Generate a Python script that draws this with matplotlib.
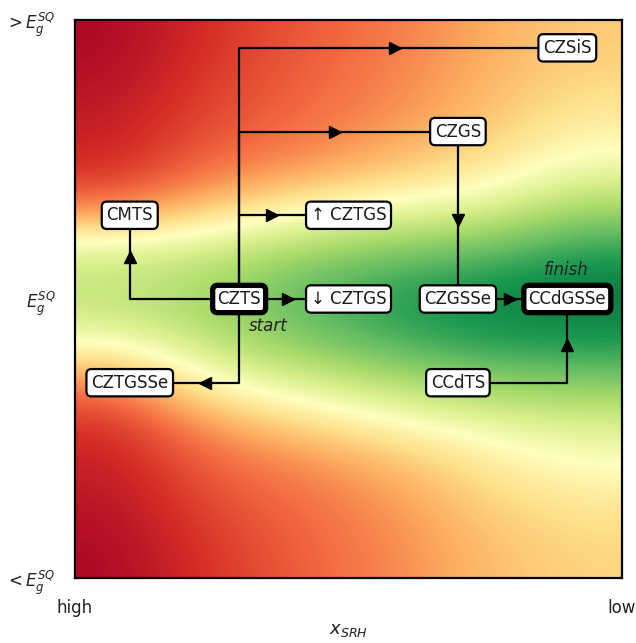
import numpy as np
import matplotlib
matplotlib.use("Agg")
import matplotlib.pyplot as plt

#Background field (colormap value, 0 = red, 1 = green)
#rows go from top (> Eg) to bottom (< Eg), columns from high to low x_SRH
field = np.array([
    [0.02, 0.10, 0.17, 0.22, 0.30, 0.36],
    [0.03, 0.12, 0.18, 0.23, 0.31, 0.38],
    [0.05, 0.14, 0.19, 0.25, 0.33, 0.42],
    [0.07, 0.17, 0.22, 0.29, 0.37, 0.48],
    [0.11, 0.23, 0.30, 0.38, 0.45, 0.58],
    [0.25, 0.38, 0.50, 0.56, 0.60, 0.72],
    [0.55, 0.60, 0.68, 0.74, 0.77, 0.86],
    [0.64, 0.69, 0.79, 0.86, 0.90, 0.95],
    [0.62, 0.70, 0.80, 0.88, 0.93, 0.95],
    [0.45, 0.63, 0.72, 0.80, 0.86, 0.87],
    [0.22, 0.48, 0.58, 0.66, 0.72, 0.74],
    [0.11, 0.30, 0.40, 0.50, 0.57, 0.61],
    [0.07, 0.20, 0.27, 0.35, 0.45, 0.52],
    [0.05, 0.16, 0.21, 0.28, 0.39, 0.45],
    [0.03, 0.13, 0.19, 0.25, 0.35, 0.40],
    [0.02, 0.11, 0.18, 0.24, 0.33, 0.38],
])

#Nodes
names = ["CZTS", "\u2191 CZTGS", "\u2193 CZTGS", "CZGSSe", "CCdGSSe",
         "CZGS", "CZSiS", "CMTS", "CZTGSSe", "CCdTS"]
node_x = [0.3, 0.5, 0.5, 0.7, 0.9, 0.7, 0.9, 0.1, 0.1, 0.7]
node_y = [0.0, 0.3, 0.0, 0.0, 0.0, 0.6, 0.9, 0.3, -0.3, -0.3]
bold_nodes = ["CZTS", "CCdGSSe"]

#Edges: (waypoints, arrow position, arrow marker)
edges = [
    ([(0.3, 0.0), (0.3, 0.9), (0.9, 0.9)], (0.585, 0.9), ">"),
    ([(0.3, 0.0), (0.3, 0.6), (0.7, 0.6)], (0.475, 0.6), ">"),
    ([(0.3, 0.3), (0.5, 0.3)], (0.36, 0.3), ">"),
    ([(0.3, 0.0), (0.5, 0.0)], (0.39, 0.0), ">"),
    ([(0.3, 0.0), (0.1, 0.0), (0.1, 0.3)], (0.1, 0.15), "^"),
    ([(0.3, 0.0), (0.3, -0.3), (0.1, -0.3)], (0.238, -0.3), "<"),
    ([(0.7, 0.6), (0.7, 0.0)], (0.7, 0.283), "v"),
    ([(0.7, 0.0), (0.9, 0.0)], (0.795, 0.0), ">"),
    ([(0.7, -0.3), (0.9, -0.3), (0.9, 0.0)], (0.9, -0.165), "^"),
]

fig = plt.figure(figsize=(6.36, 6.43), dpi=100)
ax = fig.add_axes([0.118, 0.101, 0.860, 0.868])

ax.imshow(field, cmap="RdYlGn", vmin=0, vmax=1, extent=(0, 1, -1, 1),
          origin="upper", aspect="auto", interpolation="bicubic", zorder=0)

for pts, (axx, axy), mk in edges:
    px, py = zip(*pts)
    ax.plot(px, py, color="black", lw=1.6, zorder=2, solid_capstyle="butt")
    ax.plot([axx], [axy], marker=mk, color="black", markersize=8, zorder=3)

for name, x, y in zip(names, node_x, node_y):
    lw = 3.8 if name in bold_nodes else 1.6
    ax.text(x, y, name, ha="center", va="center", fontsize=12, color="#1a1a1a", zorder=5,
            bbox=dict(boxstyle="round,pad=0.28,rounding_size=0.3", fc="white", ec="black", lw=lw))

ax.text(0.353, -0.097, "start", style="italic", fontsize=12, color="#222222",
        ha="center", va="center", zorder=5)
ax.text(0.898, 0.104, "finish", style="italic", fontsize=12, color="#222222",
        ha="center", va="center", zorder=5)

#Axes styling
ax.set_xlim(0, 1)
ax.set_ylim(-1, 1)
ax.set_xticks([0, 1])
ax.set_xticklabels(["high", "low"], fontsize=12, color="#222222")
ax.set_yticks([-1, 0, 1])
ax.set_yticklabels([r"$<E_g^{SQ}$", r"$E_g^{SQ}$", r"$>E_g^{SQ}$"], fontsize=12, color="#222222")
ax.tick_params(axis="x", length=0, pad=15)
ax.tick_params(axis="y", length=0, pad=14)
ax.set_xlabel(r"$x_{SRH}$", fontsize=13, color="#222222", labelpad=3)
for sp in ax.spines.values():
    sp.set_linewidth(1.6)
    sp.set_color("black")

fig.savefig("out.png", dpi=100)
